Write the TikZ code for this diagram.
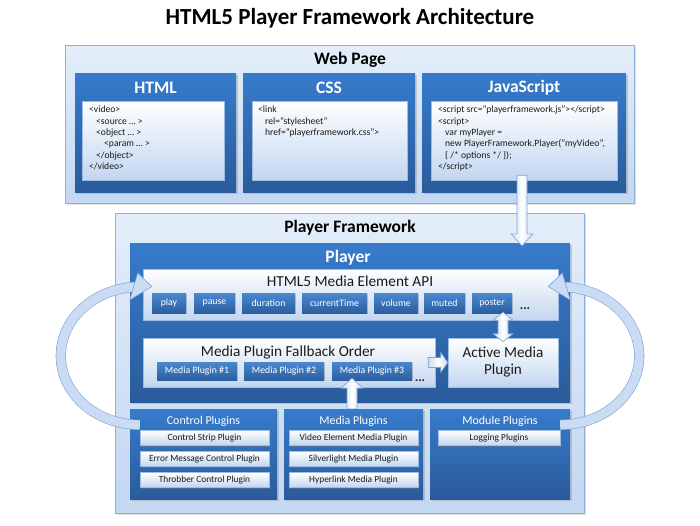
\documentclass[tikz,border=0pt]{standalone}
\usepackage{fontspec}
\setmainfont{Carlito}
\usepackage{tikz}
\usetikzlibrary{calc,positioning,shadows}
\definecolor{Ink}{HTML}{1A1A1A}
\definecolor{DeepTop}{HTML}{377BCB}
\definecolor{DeepBot}{HTML}{2A5B9B}
\definecolor{BtnTop}{HTML}{4A88CF}
\definecolor{BtnBot}{HTML}{2B5E9F}
\definecolor{Pale}{HTML}{C2D6F0}
\definecolor{PaleLine}{HTML}{9DBCE3}
\definecolor{Shell}{HTML}{C3D7F1}
\definecolor{ShellTop}{HTML}{E4EEFA}
\definecolor{ShellLine}{HTML}{8CAFDC}
\definecolor{ArrowLine}{HTML}{7FA3D3}
\definecolor{ArrowFill}{HTML}{C9DCF4}
\newcommand{\vblock}[3]{%
  \draw[blockarrow] ($(#1)+(-5,0)$) -- ($(#2)+(-5,#3)$) -- ($(#2)+(-11,#3)$)
    -- (#2) -- ($(#2)+(11,#3)$) -- ($(#2)+(5,#3)$) -- ($(#1)+(5,0)$) -- cycle;}

\begin{document}
\begin{tikzpicture}[x=1pt,y=-1pt,
    shell/.style={draw=ShellLine,line width=0.8pt,top color=ShellTop,bottom color=Shell,
                  inner sep=0pt,drop shadow={opacity=0.25,shadow xshift=1.5pt,shadow yshift=-1.5pt}},
    deep/.style={top color=DeepTop,bottom color=DeepBot,inner sep=0pt,
                 drop shadow={opacity=0.3,shadow xshift=1.5pt,shadow yshift=-1.5pt}},
    pane/.style={draw=PaleLine,line width=0.5pt,top color=white,bottom color=Pale,inner sep=0pt,
                 drop shadow={opacity=0.35,shadow xshift=1.2pt,shadow yshift=-1.2pt}},
    btn/.style={top color=BtnTop,bottom color=BtnBot,text=white,inner sep=0pt,
                minimum height=20,font=\fontsize{9.8}{11}\selectfont,
                drop shadow={opacity=0.35,shadow xshift=1pt,shadow yshift=-1pt}},
    item/.style={draw=PaleLine,line width=0.4pt,top color=white,bottom color=Pale,text=Ink,
                 inner sep=0pt,minimum height=15,font=\fontsize{9.4}{10}\selectfont,
                 drop shadow={opacity=0.35,shadow xshift=1pt,shadow yshift=-1pt}},
    ttl/.style={font=\bfseries\fontsize{23}{26}\selectfont,text=black,inner sep=0pt},
    hd/.style={font=\bfseries\fontsize{17.5}{19}\selectfont,text=black,inner sep=0pt},
    whd/.style={font=\bfseries\fontsize{17.5}{19}\selectfont,text=white,inner sep=0pt},
    sub/.style={font=\fontsize{15.3}{17}\selectfont,text=Ink,inner sep=0pt},
    grp/.style={font=\fontsize{12}{14}\selectfont,text=white,inner sep=0pt},
    more/.style={font=\bfseries\fontsize{13}{14}\selectfont,text=Ink,inner sep=0pt},
    code/.style={align=left,anchor=north west,text=Ink,inner sep=0pt,
                 font=\fontsize{9.6}{11.3}\selectfont},
    blockarrow/.style={draw=ArrowLine,line width=0.6pt,left color=ArrowFill,
                       right color=ArrowFill,middle color=white},
    loop/.style={draw=ArrowLine,line width=0.6pt,double=ArrowFill,double distance=9pt},
    loophead/.style={draw=ArrowLine,line width=0.6pt,fill=ArrowFill}]
  \useasboundingbox (0,0) rectangle (700,525);
  \node[ttl] (title) at (350,18) {HTML5 Player Framework Architecture};

  \node[shell,minimum width=569,minimum height=158] (web) at (349.5,124) {};
  \node[hd] (web-hd) at (350,60) {Web Page};
  \foreach \n/\t/\x/\w in {html/HTML/155.5/161,css/CSS/329/172,js/JavaScript/524/204}{%
    \node[deep,minimum width=\w,minimum height=119] (\n) at (\x,132.5) {};
    \node[whd] (\n-hd) at (\x,88) {\t};
  }
  \node[pane,minimum width=142,minimum height=79] (html-in) at (153,140.5) {};
  \node[pane,minimum width=155,minimum height=79] (css-in) at (329.5,140.5) {};
  \node[pane,minimum width=186,minimum height=79] (js-in) at (524,140.5) {};
  \node[code] (html-code) at (89,106)
    {<video>\\ \hspace*{7pt}<source \dots{} >\\ \hspace*{7pt}<object \dots{} >\\
     \hspace*{15pt}<param \dots{} >\\ \hspace*{7pt}</object>\\ </video>};
  \node[code] (css-code) at (258,106)
    {<link\\ \hspace*{7pt}rel="stylesheet"\\ \hspace*{7pt}href="playerframework.css">};
  \node[code] (js-code) at (438,106)
    {<script src="playerframework.js"></script>\\ <script>\\
     \hspace*{7pt}var myPlayer =\\
     \hspace*{7pt}new PlayerFramework.Player("myVideo",\\
     \hspace*{7pt}\{ /* options */ \});\\ </script>};

  \node[shell,minimum width=469,minimum height=300] (fw) at (349.5,363) {};
  \node[hd] (fw-hd) at (350,228) {Player Framework};
  \node[deep,minimum width=440,minimum height=159] (player) at (350,322.5) {};
  \node[whd] (player-hd) at (348,258) {Player};

  \node[pane,minimum width=415,minimum height=51] (api) at (350.5,294.5) {};
  \node[sub] (api-hd) at (350,281) {HTML5 Media Element API};
  \foreach \b/\x/\w in {play/169/34,pause/214.5/41,duration/268.5/53,currentTime/334.5/65,
                        volume/396/44,muted/444.5/41,poster/492/40}
    \node[btn,minimum width=\w] (\b) at (\x,303) {\b};
  \node[more] (api-more) at (525,309) {...};

  \node[pane,minimum width=292,minimum height=49] (fallback) at (289,362.5) {};
  \node[sub] (fallback-hd) at (288,352) {Media Plugin Fallback Order};
  \foreach \i/\x in {1/197,2/284,3/372}
    \node[btn,minimum width=80,minimum height=18] (mp\i) at (\x,371) {Media Plugin \#\i};
  \node[more] (mp-more) at (420,381) {...};
  \node[pane,minimum width=110,minimum height=49,align=center,
        font=\fontsize{15.2}{17}\selectfont,text=Ink] (active) at (503,362.5)
    {Active Media\\Plugin};

  \foreach \n/\t/\x/\w in {ctrl/Control Plugins/203.5/147,media/Media Plugins/353.5/139,
                           module/Module Plugins/500/140}{%
    \node[deep,minimum width=\w,minimum height=90] (\n) at (\x,454) {};
    \node[grp] (\n-hd) at (\x,421) {\t};
  }
  \foreach \t [count=\i] in {Control Strip Plugin,Error Message Control Plugin,Throbber Control Plugin}
    \node[item,minimum width=129] (ctrl\i) at (204.5,{417+21*\i}) {\t};
  \foreach \t [count=\i] in {Video Element Media Plugin,Silverlight Media Plugin,Hyperlink Media Plugin}
    \node[item,minimum width=129] (media\i) at (353.5,{417+21*\i}) {\t};
  \node[item,minimum width=122] (module1) at (499,438) {Logging Plugins};

  \coordinate (js-out) at ($(js-in.south)+(-2,-5)$);
  \coordinate (player-in) at ($(js-out |- player.north)+(0,3)$);
  \vblock{js-out}{player-in}{-12}
  \coordinate (media-out) at ($(media.north)+(-1.5,0)$);
  \coordinate (mp-in) at ($(mp3.south)+(-20,-2)$);
  \vblock{media-out}{mp-in}{10}
  \draw[blockarrow] ($(fallback.east)+(-7,-5)$) -- ($(active.west)+(-7,-5)$)
    -- ($(active.west)+(-7,-10)$) -- (active.west) -- ($(active.west)+(-7,10)$)
    -- ($(active.west)+(-7,5)$) -- ($(fallback.east)+(-7,5)$) -- cycle;
  \coordinate (dbl-top) at ($(active.north |- poster.south)+(0,-1)$);
  \coordinate (dbl-bot) at ($(active.north)+(0,4)$);
  \draw[blockarrow] (dbl-top) -- ($(dbl-top)+(10,8)$) -- ($(dbl-top)+(5,8)$)
    -- ($(dbl-bot)+(5,-8)$) -- ($(dbl-bot)+(10,-8)$) -- (dbl-bot)
    -- ($(dbl-bot)+(-10,-8)$) -- ($(dbl-bot)+(-5,-8)$) -- ($(dbl-top)+(-5,8)$)
    -- ($(dbl-top)+(-10,8)$) -- cycle;

  \coordinate (ctrl-out) at ($(ctrl.north west)+(10,16)$);
  \coordinate (api-in-l) at ($(api.west)+(9,-8)$);
  \draw[loop] (ctrl-out) arc[start angle=90,end angle=270,x radius=79,y radius=69];
  \draw[loophead] (api-in-l) -- ($(api-in-l)+(-14,-13.5)$) -- ($(api-in-l)+(-22,13.5)$) -- cycle;
  \coordinate (module-out) at ($(module.north east)+(-10,16)$);
  \coordinate (api-in-r) at ($(api.east)+(-10,-8)$);
  \draw[loop] (module-out) arc[start angle=90,end angle=-90,x radius=79,y radius=69];
  \draw[loophead] (api-in-r) -- ($(api-in-r)+(14,-13.5)$) -- ($(api-in-r)+(22,13.5)$) -- cycle;
\end{tikzpicture}
\end{document}
